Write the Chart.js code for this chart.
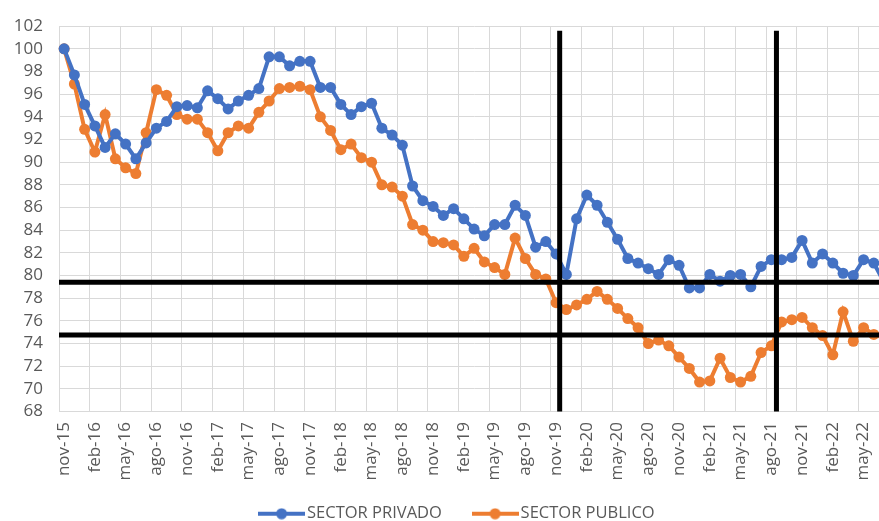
<!DOCTYPE html>
<html lang="es">
<head>
    <meta charset="UTF-8">
    <title>Sector privado vs sector publico</title>
    <script src="https://cdn.jsdelivr.net/npm/chart.js@4.4.1/dist/chart.umd.min.js"></script>
    <style>
        html, body { margin: 0; padding: 0; background: #fff; overflow: hidden; }
        /* the plot runs a little past the right edge of the window, as in the original crop */
        #wrap { width: 915px; height: 544px; }
    </style>
</head>
<body>
    <div id="wrap"><canvas id="chart" width="915" height="544"></canvas></div>
    <script>
        // months nov-15 .. jul-22
        const months = [
            'nov-15', 'dic-15',
            'ene-16', 'feb-16', 'mar-16', 'abr-16', 'may-16', 'jun-16', 'jul-16', 'ago-16', 'sep-16', 'oct-16', 'nov-16', 'dic-16',
            'ene-17', 'feb-17', 'mar-17', 'abr-17', 'may-17', 'jun-17', 'jul-17', 'ago-17', 'sep-17', 'oct-17', 'nov-17', 'dic-17',
            'ene-18', 'feb-18', 'mar-18', 'abr-18', 'may-18', 'jun-18', 'jul-18', 'ago-18', 'sep-18', 'oct-18', 'nov-18', 'dic-18',
            'ene-19', 'feb-19', 'mar-19', 'abr-19', 'may-19', 'jun-19', 'jul-19', 'ago-19', 'sep-19', 'oct-19', 'nov-19', 'dic-19',
            'ene-20', 'feb-20', 'mar-20', 'abr-20', 'may-20', 'jun-20', 'jul-20', 'ago-20', 'sep-20', 'oct-20', 'nov-20', 'dic-20',
            'ene-21', 'feb-21', 'mar-21', 'abr-21', 'may-21', 'jun-21', 'jul-21', 'ago-21', 'sep-21', 'oct-21', 'nov-21', 'dic-21',
            'ene-22', 'feb-22', 'mar-22', 'abr-22', 'may-22', 'jun-22', 'jul-22'
        ];

        const sectorPrivado = [
            100.0, 97.7,
            95.1, 93.2, 91.3, 92.5, 91.6, 90.3, 91.7, 93.0, 93.6, 94.9, 95.0, 94.8,
            96.3, 95.6, 94.7, 95.4, 95.9, 96.5, 99.3, 99.3, 98.5, 98.9, 98.9, 96.6,
            96.6, 95.1, 94.2, 94.9, 95.2, 93.0, 92.4, 91.5, 87.9, 86.6, 86.1, 85.3,
            85.9, 85.0, 84.1, 83.5, 84.5, 84.5, 86.2, 85.3, 82.5, 83.0, 81.9, 80.1,
            85.0, 87.1, 86.2, 84.7, 83.2, 81.5, 81.1, 80.6, 80.1, 81.4, 80.9, 78.9,
            78.9, 80.1, 79.5, 80.0, 80.1, 79.0, 80.8, 81.4, 81.4, 81.6, 83.1, 81.1,
            81.9, 81.1, 80.2, 80.0, 81.4, 81.1, 79.4
        ];

        const sectorPublico = [
            100.0, 96.9,
            92.9, 90.9, 94.2, 90.3, 89.5, 89.0, 92.6, 96.4, 95.9, 94.2, 93.8, 93.8,
            92.6, 91.0, 92.6, 93.2, 93.0, 94.4, 95.4, 96.5, 96.6, 96.7, 96.4, 94.0,
            92.8, 91.1, 91.6, 90.4, 90.0, 88.0, 87.8, 87.0, 84.5, 84.0, 83.0, 82.9,
            82.7, 81.7, 82.4, 81.2, 80.7, 80.1, 83.3, 81.5, 80.1, 79.7, 77.6, 77.0,
            77.4, 77.9, 78.6, 77.9, 77.1, 76.2, 75.4, 74.0, 74.3, 73.8, 72.8, 71.8,
            70.6, 70.7, 72.7, 71.0, 70.6, 71.1, 73.2, 73.8, 75.9, 76.1, 76.3, 75.4,
            74.7, 73.0, 76.8, 74.2, 75.4, 74.8, 74.6
        ];

        // black guide lines drawn over the chart
        const refLevels = [79.4, 74.75];   // horizontal, index value
        const refMonths = [48.35, 69.5];   // vertical, month position (nov-19 / ago-21)
        const refTop = 101.6;

        const legendLift = 12;   // pull the legend up closer to the axis labels

        const BLUE = '#4472C4';
        const ORANGE = '#ED7D31';
        const GRID = '#d9d9d9';
        const TEXT = '#595959';

        Chart.defaults.font.family = "'Open Sans', sans-serif";

        // legend symbol: line with a dot in the middle
        function legendMark(color) {
            const c = document.createElement('canvas');
            c.width = 47;
            c.height = 12;
            const g = c.getContext('2d');
            g.strokeStyle = color;
            g.lineWidth = 4;
            g.beginPath();
            g.moveTo(0, 6);
            g.lineTo(47, 6);
            g.stroke();
            g.fillStyle = color;
            g.beginPath();
            g.arc(23.5, 6, 5.5, 0, Math.PI * 2);
            g.fill();
            return c;
        }
        const legendMarks = [legendMark(BLUE), legendMark(ORANGE)];

        const refLines = {
            id: 'refLines',
            afterLayout(chart) {
                chart.legend.top -= legendLift;
                chart.legend.bottom -= legendLift;
            },
            afterDatasetsDraw(chart) {
                const { ctx, chartArea, scales: { x, y } } = chart;
                ctx.save();
                ctx.strokeStyle = '#000';
                ctx.lineWidth = 5;
                refLevels.forEach(v => {
                    const py = y.getPixelForValue(v);
                    ctx.beginPath();
                    ctx.moveTo(chartArea.left, py);
                    ctx.lineTo(chartArea.right, py);
                    ctx.stroke();
                });
                refMonths.forEach(m => {
                    const px = x.getPixelForValue(m);
                    ctx.beginPath();
                    ctx.moveTo(px, y.getPixelForValue(refTop));
                    ctx.lineTo(px, chartArea.bottom);
                    ctx.stroke();
                });
                ctx.restore();
            }
        };

        function series(label, data, color) {
            return {
                label: label,
                data: data,
                borderColor: color,
                backgroundColor: color,
                borderWidth: 4,
                pointRadius: 5.5,
                pointHoverRadius: 5.5,
                pointBorderWidth: 0,
                pointBackgroundColor: color,
                tension: 0,
                fill: false
            };
        }

        new Chart(document.getElementById('chart'), {
            type: 'line',
            data: {
                labels: months,
                datasets: [
                    series('SECTOR PRIVADO', sectorPrivado, BLUE),
                    series('SECTOR PUBLICO', sectorPublico, ORANGE)
                ]
            },
            options: {
                responsive: false,
                animation: false,
                layout: { padding: { left: 4, right: 0, top: 10, bottom: 0 } },
                scales: {
                    x: {
                        offset: true,
                        grid: {
                            offset: true,
                            drawTicks: false,
                            color: ctx => (ctx.index % 3 === 0 ? GRID : 'rgba(0,0,0,0)')
                        },
                        border: { color: GRID },
                        ticks: {
                            autoSkip: false,
                            minRotation: 90,
                            maxRotation: 90,
                            padding: 10.5,
                            color: TEXT,
                            font: { size: 17 },
                            callback: function (val, i) {
                                return i % 3 === 0 ? this.getLabelForValue(val) : '';
                            }
                        },
                        afterFit: s => { s.height = 70; }
                    },
                    y: {
                        min: 68,
                        max: 102,
                        grid: { color: GRID, drawTicks: false },
                        border: { color: GRID },
                        ticks: {
                            stepSize: 2,
                            autoSkip: false,
                            padding: 16,
                            color: TEXT,
                            font: { size: 17 }
                        },
                        afterFit: s => { s.width = 55; }
                    }
                },
                plugins: {
                    tooltip: { enabled: false },
                    legend: {
                        position: 'bottom',
                        labels: {
                            usePointStyle: true,
                            pointStyleWidth: 34.5,
                            padding: 36,
                            color: TEXT,
                            font: { size: 16.5 },
                            generateLabels: chart =>
                                Chart.defaults.plugins.legend.labels.generateLabels(chart)
                                    .map((l, i) => Object.assign(l, { pointStyle: legendMarks[i] }))
                        }
                    }
                }
            },
            plugins: [refLines]
        });
    </script>
</body>
</html>
